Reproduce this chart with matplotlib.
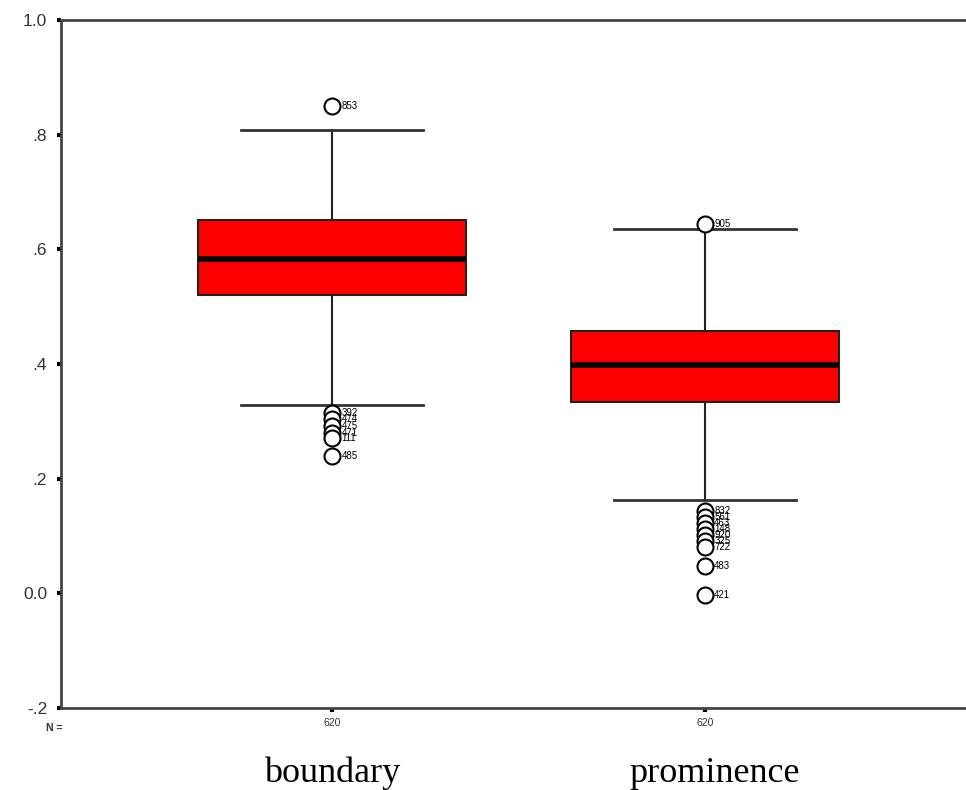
import matplotlib
matplotlib.use("Agg")
import matplotlib.pyplot as plt
from matplotlib.transforms import blended_transform_factory

# ---- data
groups = ["boundary", "prominence"]
counts = [620, 620]
q1 = [0.520, 0.334]
med = [0.583, 0.398]
q3 = [0.652, 0.457]
whislo = [0.329, 0.162]
whishi = [0.809, 0.635]
out_boundary = [0.850, 0.315, 0.304, 0.292, 0.280, 0.271, 0.240]
lab_boundary = ["853", "392", "474", "475", "471", "111", "485"]
out_prominence = [0.645, 0.144, 0.134, 0.123, 0.113, 0.102, 0.091, 0.080, 0.047, -0.003]
lab_prominence = ["905", "832", "561", "463", "148", "920", "325", "722", "483", "421"]
yticks = [-0.2, 0.0, 0.2, 0.4, 0.6, 0.8, 1.0]
ytick_labels = ["-.2", "0.0", ".2", ".4", ".6", ".8", "1.0"]

fliers = [out_boundary, out_prominence]
flier_labels = [lab_boundary, lab_prominence]

fig = plt.figure(figsize=(9.66, 7.9), dpi=100)
ax = fig.add_axes([61 / 966, 82 / 790, 905 / 966, 688 / 790])

stats = []
for i, g in enumerate(groups):
    stats.append(dict(label=str(counts[i]), q1=q1[i], med=med[i], q3=q3[i],
                      whislo=whislo[i], whishi=whishi[i], fliers=fliers[i]))

pos = [1, 2]
ax.bxp(stats, positions=pos, widths=0.72, patch_artist=True,
       boxprops=dict(facecolor="#ff0000", edgecolor="#222222", linewidth=1.5),
       medianprops=dict(color="black", linewidth=4),
       whiskerprops=dict(color="#222222", linewidth=1.5),
       capprops=dict(color="#333333", linewidth=2),
       capwidths=0.49,
       flierprops=dict(marker="o", markersize=11.5, markerfacecolor="white",
                       markeredgecolor="black", markeredgewidth=1.5))

# outlier case numbers (they pile up just like in the original)
for i, p in enumerate(pos):
    for v, t in zip(fliers[i], flier_labels[i]):
        ax.text(p + 0.025, v, t, fontsize=7, va="center", ha="left",
                family="Liberation Sans")

ax.set_xlim(0.273, 2.70)
ax.set_ylim(-0.2, 1.0)
ax.set_yticks(yticks)
ax.set_yticklabels(ytick_labels)
ax.set_xticks(pos)
ax.set_xticklabels([str(c) for c in counts])

for lab in ax.get_yticklabels():
    lab.set_family("Liberation Sans")
    lab.set_fontsize(12.5)
    lab.set_color("#333333")
for lab in ax.get_xticklabels():
    lab.set_family("Liberation Sans")
    lab.set_fontsize(7.5)
    lab.set_color("#333333")

ax.tick_params(axis="y", length=3, width=3, color="black", pad=7)
ax.tick_params(axis="x", length=3, width=3, color="black", pad=4)

for s in ["left", "bottom", "top"]:
    ax.spines[s].set_linewidth(2)
    ax.spines[s].set_color("#444444")
ax.spines["right"].set_visible(False)

# group names under the axis
tr = blended_transform_factory(ax.transData, fig.transFigure)
ax.text(pos[0], 1 - 773 / 790, groups[0], transform=tr, ha="center", va="center",
        fontsize=26, family="Liberation Serif")
ax.text(pos[1] + 0.027, 1 - 773 / 790, groups[1], transform=tr, ha="center", va="center",
        fontsize=26, family="Liberation Serif")
fig.text(62 / 966, 1 - 728 / 790, "N =", fontsize=7.5, ha="right", va="center",
         family="Liberation Sans", weight="bold", color="#333333")

fig.savefig("out.png", dpi=100)
